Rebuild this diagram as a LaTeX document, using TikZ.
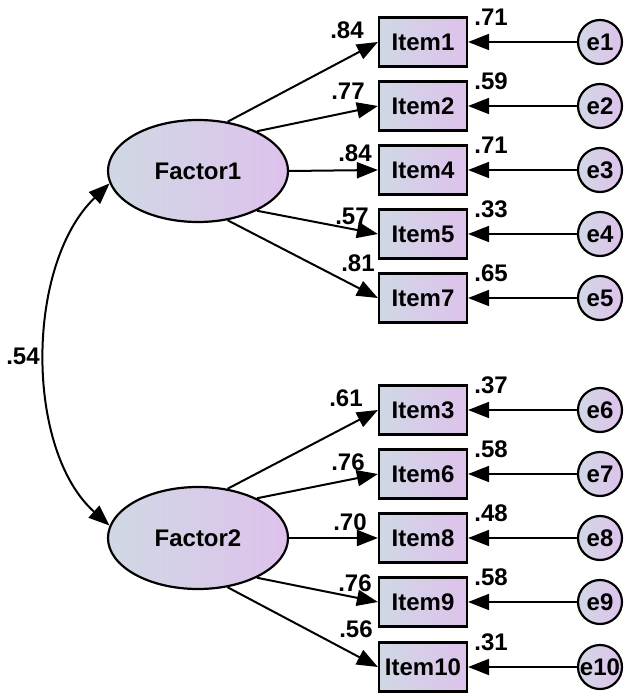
\documentclass[tikz,border=0pt]{standalone}
\usepackage{fontspec}
\setmainfont{Liberation Sans}
\usetikzlibrary{arrows.meta,shapes.geometric}
\definecolor{cl}{RGB}{208,216,228}
\definecolor{cr}{RGB}{222,194,236}
\begin{document}
\begin{tikzpicture}[x=1pt,y=-1pt,
  font=\fontsize{24}{26}\selectfont\bfseries,
  itembox/.style={draw, line width=2.2pt, left color=cl, right color=cr, minimum width=88pt, minimum height=49pt, inner sep=0pt},
  factor/.style={draw, ellipse, line width=2.2pt, left color=cl, right color=cr, minimum width=180pt, minimum height=102pt, inner sep=0pt},
  err/.style={draw, circle, line width=2.2pt, left color=cl, right color=cr, minimum size=44pt, inner sep=0pt},
  path/.style={line width=2pt, -{Triangle[length=21pt,width=16pt]}},
  lbl/.style={inner sep=0pt}
]
\useasboundingbox (0,0) rectangle (627,693);

\node[factor] (F1) at (198,171) {Factor1};
\node[factor] (F2) at (198,538) {Factor2};

\foreach \n/\y/\e in {1/42/1,2/106/2,4/170/3,5/234/4,7/298/5,3/410/6,6/474/7,8/538/8,9/602/9,10/667/10}{
  \node[itembox] (I\n) at (423,\y) {Item\n};
  \node[err] (e\e) at (600,\y) {e\e};
  \draw[path] (e\e) -- (I\n.east);
}

\draw[path] (F1.59) -- (I1.west);
\draw[path] (F1.34) -- (I2.west);
\draw[path] (F1.0) -- (I4.west);
\draw[path] (F1.-34) -- (I5.west);
\draw[path] (F1.-59) -- (I7.west);

\draw[path] (F2.59) -- (I3.west);
\draw[path] (F2.34) -- (I6.west);
\draw[path] (F2.0) -- (I8.west);
\draw[path] (F2.-34) -- (I9.west);
\draw[path] (F2.-59) -- (I10.west);

\coordinate (c1) at (F1.188);
\coordinate (c2) at (F2.172);
\draw[line width=2pt, {Triangle[length=21pt,width=16pt]}-{Triangle[length=21pt,width=16pt]}]
  (c1) .. controls (25,265) and (25,450) .. (c2);

\node[lbl] (l54) at (23,356) {.54};

\node[lbl] (a1) at (347,30) {.84};
\node[lbl] (a2) at (348,91) {.77};
\node[lbl] (a3) at (355,153) {.84};
\node[lbl] (a4) at (352,216) {.57};
\node[lbl] (a5) at (358,263) {.81};
\node[lbl] (b1) at (346,398) {.61};
\node[lbl] (b2) at (348,462) {.76};
\node[lbl] (b3) at (350,522) {.70};
\node[lbl] (b4) at (355,583) {.76};
\node[lbl] (b5) at (356,629) {.56};

\foreach \n/\v in {1/.71,2/.59,4/.71,5/.33,7/.65,3/.37,6/.58,8/.48,9/.58,10/.31}{
  \node[lbl] at ([xshift=23pt,yshift=-1pt]I\n.north east) {\v};
}
\end{tikzpicture}
\end{document}
